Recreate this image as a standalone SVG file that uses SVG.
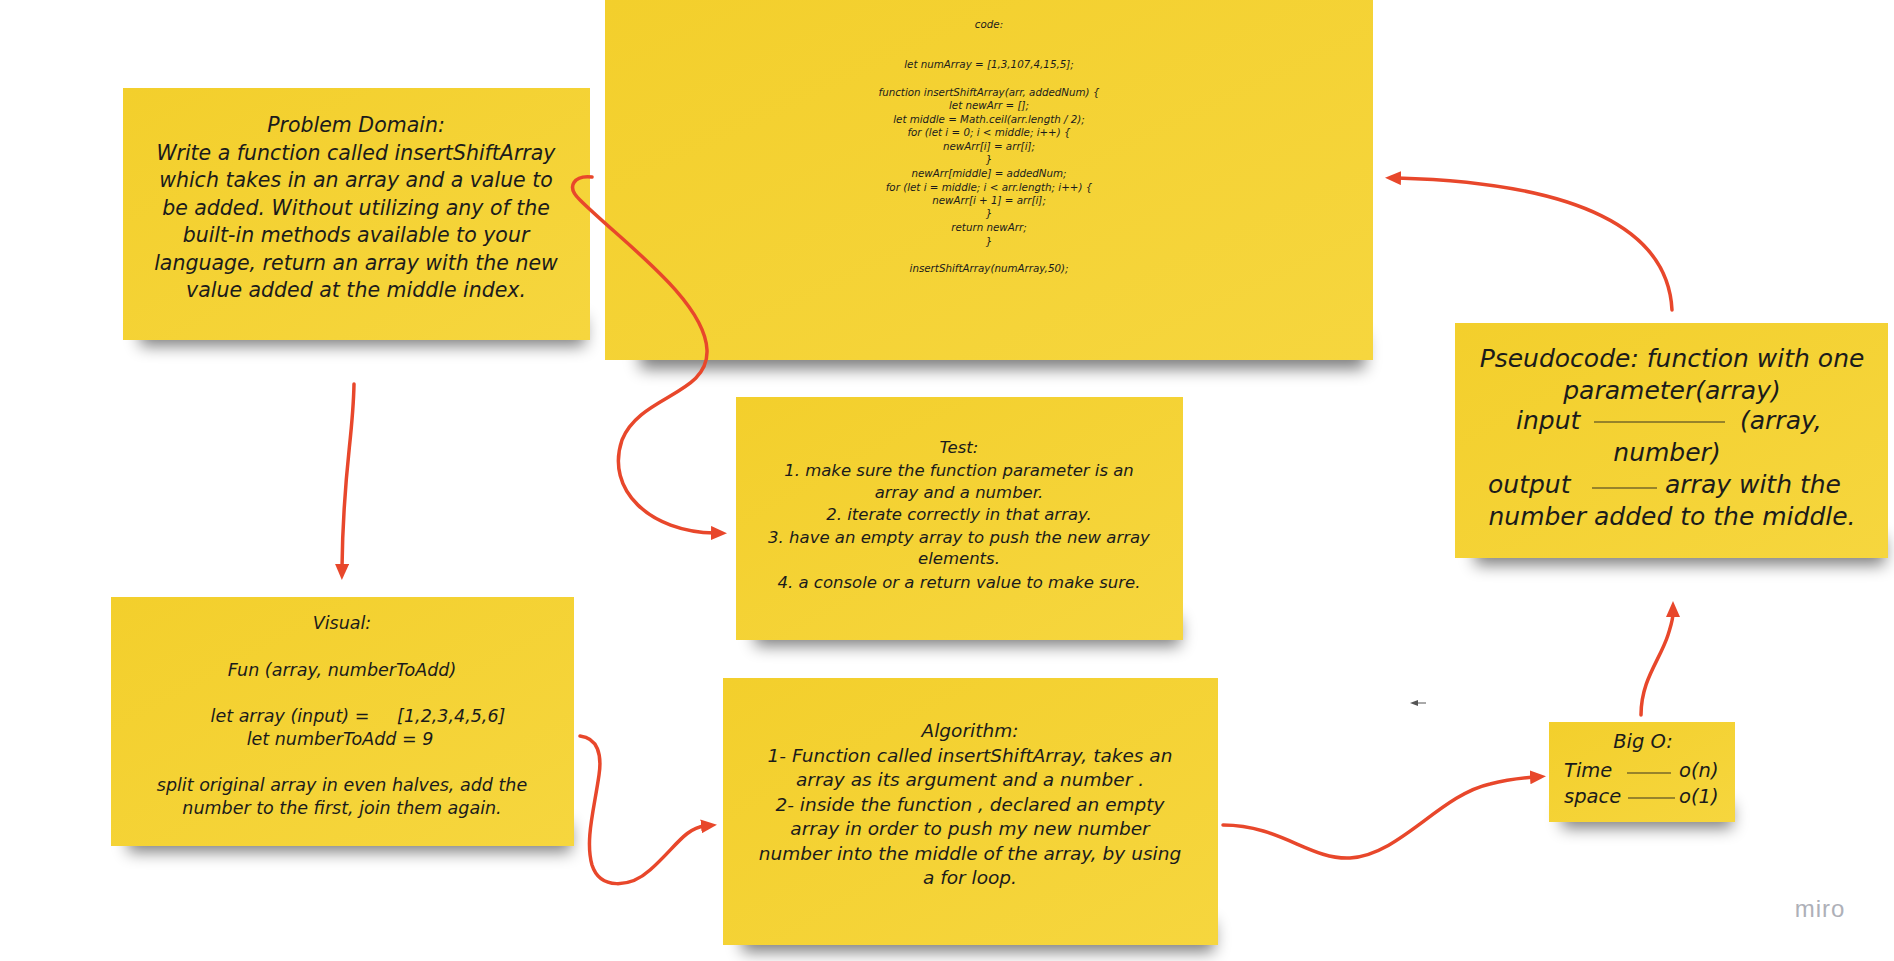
<svg xmlns="http://www.w3.org/2000/svg" width="1894" height="961" viewBox="0 0 1894 961">
<defs>
<filter id="blur" x="-20%" y="-100%" width="140%" height="300%"><feGaussianBlur stdDeviation="8"/></filter>
<linearGradient id="yel" x1="0" y1="0" x2="1" y2="1"><stop offset="0" stop-color="#F3CF2C"/><stop offset="1" stop-color="#F6D63E"/></linearGradient>
<marker id="arrow" viewBox="0 0 16 14" markerWidth="16" markerHeight="14" refX="4" refY="7" orient="auto" markerUnits="userSpaceOnUse"><path d="M0,0 L16,7 L0,14 z" fill="#E8472B"/></marker>
<marker id="arrowSmall" viewBox="0 0 8 6" markerWidth="8" markerHeight="6" refX="1" refY="3" orient="auto" markerUnits="userSpaceOnUse"><path d="M0,0 L8,3 L0,6 z" fill="#555"/></marker>
<style>
.note{fill:url(#yel);}
.shadow{fill:#000;opacity:.5;filter:url(#blur);}
.t{font-family:"DejaVu Sans","Noto Sans",sans-serif;font-style:italic;fill:#1b1b1b;text-anchor:middle;}
.s{text-anchor:start;}
.pd{font-size:20.5px;}
.code{font-size:10.3px;}
.test{font-size:16.5px;}
.vis{font-size:17.5px;}
.alg{font-size:18.5px;}
.big{font-size:19.5px;}
.ps{font-size:25px;}
.dash{stroke:#3a3520;stroke-width:1.2;}
.conn{fill:none;stroke:#E8472B;stroke-width:3.5;stroke-linecap:round;marker-end:url(#arrow);}
</style>
</defs>
<rect width="1894" height="961" fill="#fff"/>

<g id="node-code">
<rect class="shadow" x="640" y="335" width="725" height="34"/>
<rect class="note" x="605" y="0" width="768" height="360"/>
<text class="t code" x="989" y="28">code:</text>
<text class="t code" x="989" y="68">let numArray = [1,3,107,4,15,5];</text>
<text class="t code" x="989" y="96">function insertShiftArray(arr, addedNum) {</text>
<text class="t code" x="989" y="109">let newArr = [];</text>
<text class="t code" x="989" y="123">let middle = Math.ceil(arr.length / 2);</text>
<text class="t code" x="989" y="136">for (let i = 0; i &lt; middle; i++) {</text>
<text class="t code" x="989" y="150">newArr[i] = arr[i];</text>
<text class="t code" x="989" y="163">}</text>
<text class="t code" x="989" y="177">newArr[middle] = addedNum;</text>
<text class="t code" x="989" y="191">for (let i = middle; i &lt; arr.length; i++) {</text>
<text class="t code" x="989" y="204">newArr[i + 1] = arr[i];</text>
<text class="t code" x="989" y="217">}</text>
<text class="t code" x="989" y="231">return newArr;</text>
<text class="t code" x="989" y="245">}</text>
<text class="t code" x="989" y="272">insertShiftArray(numArray,50);</text>
</g>

<g id="node-problem">
<rect class="shadow" x="140" y="318" width="445" height="28"/>
<rect class="note" x="123" y="88" width="467" height="252"/>
<text class="t pd" x="356" y="132">Problem Domain:</text>
<text class="t pd" x="356" y="160">Write a function called insertShiftArray</text>
<text class="t pd" x="356" y="187">which takes in an array and a value to</text>
<text class="t pd" x="356" y="215">be added. Without utilizing any of the</text>
<text class="t pd" x="356" y="242">built-in methods available to your</text>
<text class="t pd" x="356" y="270">language, return an array with the new</text>
<text class="t pd" x="356" y="297">value added at the middle index.</text>
</g>

<g id="node-test">
<rect class="shadow" x="755" y="618" width="425" height="28"/>
<rect class="note" x="736" y="397" width="447" height="243"/>
<text class="t test" x="959" y="453">Test:</text>
<text class="t test" x="959" y="476">1. make sure the function parameter is an</text>
<text class="t test" x="959" y="498">array and a number.</text>
<text class="t test" x="959" y="520">2. iterate correctly in that array.</text>
<text class="t test" x="959" y="543">3. have an empty array to push the new array</text>
<text class="t test" x="959" y="564">elements.</text>
<text class="t test" x="959" y="588">4. a console or a return value to make sure.</text>
</g>

<g id="node-pseudocode">
<rect class="shadow" x="1475" y="537" width="410" height="28"/>
<rect class="note" x="1455" y="323" width="433" height="235"/>
<text class="t ps" x="1672" y="367">Pseudocode: function with one</text>
<text class="t ps" x="1672" y="399">parameter(array)</text>
<text class="t ps s" x="1516" y="429">input</text>
<line class="dash" x1="1594" y1="422" x2="1725" y2="422"/>
<text class="t ps s" x="1740" y="429">(array,</text>
<text class="t ps" x="1667" y="461">number)</text>
<text class="t ps s" x="1488" y="493">output</text>
<line class="dash" x1="1592" y1="488" x2="1657" y2="488"/>
<text class="t ps s" x="1665" y="493">array with the</text>
<text class="t ps" x="1672" y="525">number added to the middle.</text>
</g>

<g id="node-visual">
<rect class="shadow" x="128" y="824" width="443" height="28"/>
<rect class="note" x="111" y="597" width="463" height="249"/>
<text class="t vis" x="342" y="629">Visual:</text>
<text class="t vis" x="342" y="676">Fun (array, numberToAdd)</text>
<text class="t vis" x="358" y="722" xml:space="preserve">let array (input) =     [1,2,3,4,5,6]</text>
<text class="t vis" x="340" y="745">let numberToAdd = 9</text>
<text class="t vis" x="342" y="791">split original array in even halves, add the</text>
<text class="t vis" x="342" y="814">number to the first, join them again.</text>
</g>

<g id="node-algorithm">
<rect class="shadow" x="742" y="922" width="472" height="30"/>
<rect class="note" x="723" y="678" width="495" height="267"/>
<text class="t alg" x="970" y="737">Algorithm:</text>
<text class="t alg" x="970" y="762">1- Function called insertShiftArray, takes an</text>
<text class="t alg" x="970" y="786">array as its argument and a number .</text>
<text class="t alg" x="970" y="811">2- inside the function , declared an empty</text>
<text class="t alg" x="970" y="835">array in order to push my new number</text>
<text class="t alg" x="970" y="860">number into the middle of the array, by using</text>
<text class="t alg" x="970" y="884">a for loop.</text>
</g>

<g id="node-bigo">
<rect class="shadow" x="1562" y="804" width="170" height="24"/>
<rect class="note" x="1549" y="722" width="186" height="100"/>
<text class="t big" x="1643" y="748">Big O:</text>
<text class="t big s" x="1564" y="777">Time</text>
<line class="dash" x1="1627" y1="773" x2="1671" y2="773"/>
<text class="t big s" x="1679" y="777">o(n)</text>
<text class="t big s" x="1564" y="803">space</text>
<line class="dash" x1="1628" y1="798" x2="1675" y2="798"/>
<text class="t big s" x="1679" y="803">o(1)</text>
</g>

<g id="connectors">
<path class="conn" d="M592,177 C575,175 565,186 580,200 C620,240 705,300 707,350 C709,395 640,395 622,440 C605,490 650,532 715,533"/>
<path class="conn" d="M354,384 C353,440 343,470 342,568"/>
<path class="conn" d="M580,736 C598,738 602,755 599,775 C594,810 585,840 592,865 C600,890 630,888 650,870 C675,848 685,828 705,826"/>
<path class="conn" d="M1223,825 C1280,825 1310,860 1350,858 C1400,855 1440,795 1490,784 C1505,780 1520,778 1534,777"/>
<path class="conn" d="M1641,715 C1641,680 1660,660 1668,635 C1671,625 1673,620 1673,613"/>
<path class="conn" d="M1672,310 C1668,230 1580,183 1397,178"/>
<path d="M1426,703 L1417,703" stroke="#555" stroke-width="1" fill="none" marker-end="url(#arrowSmall)"/>
</g>

<text x="1820" y="917" font-family="Liberation Sans, sans-serif" font-size="24" fill="#aeb0b8" text-anchor="middle" letter-spacing="1">miro</text>
</svg>
